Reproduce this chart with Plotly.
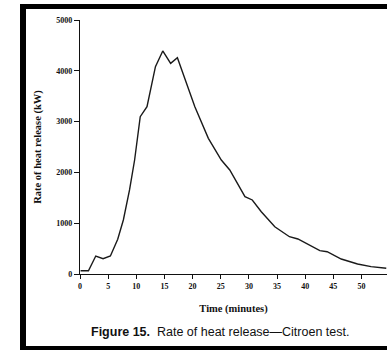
import plotly.graph_objects as go

time_min = [0.1, 1.5, 2.8, 4.1, 5.4, 6.7, 7.7, 8.8, 9.7, 10.7, 11.9, 13.4, 14.7, 16.1, 17.3,
            18.6, 20.4, 22.8, 25.1, 26.6, 29.3, 30.6, 32.2, 34.6, 37.2, 38.7, 40.5, 42.6,
            43.9, 46.4, 49.3, 51.7, 54.4]
heat_kw = [65, 65, 354, 302, 354, 683, 1063, 1654, 2244, 3097, 3294, 4081, 4390, 4147, 4258,
           3852, 3294, 2671, 2244, 2047, 1522, 1457, 1226, 931, 734, 689, 585, 459,
           439, 295, 197, 144, 112]
x_ticks = [0, 5, 10, 15, 20, 25, 30, 35, 40, 45, 50, 55]
y_ticks = [0, 1000, 2000, 3000, 4000, 5000]

W, H = 387, 350
ML, MR, MT, MB = 80, 0, 20, 76
PW, PH = W - ML - MR, H - MT - MB

def px_x(p):
    return (p - ML) / PW

def px_y(p):
    return (H - MB - p) / PH

fig = go.Figure()
fig.add_trace(go.Scatter(x=time_min, y=heat_kw, mode="lines",
                         line=dict(color="#1a1a1a", width=1.4), showlegend=False))

tick_font = dict(family="Liberation Serif", size=8, color="#111", weight="bold")
title_font = dict(family="Liberation Serif", size=10.5, color="#111", weight="bold")

fig.update_xaxes(range=[0, PW / 5.63], tickvals=x_ticks, showgrid=False, zeroline=False,
                 showline=True, linecolor="#111", linewidth=1.2, ticks="outside",
                 ticklen=4, tickwidth=1, tickcolor="#111", tickfont=tick_font,
                 title=dict(text="Time (minutes)", font=title_font, standoff=14))
fig.update_yaxes(range=[0, 5000], tickvals=y_ticks, showgrid=False, zeroline=False,
                 showline=True, linecolor="#111", linewidth=1.2, ticks="outside",
                 ticklen=5, tickwidth=1, tickcolor="#111", tickfont=tick_font,
                 title=dict(text="Rate of heat release (kW)", font=title_font, standoff=12))

# black frame (left, top, bottom edges; right edge is cropped in the reference)
frame = [(20, 4, 26, 350), (20, 4, W + 5, 9), (20, 346, W + 5, 352)]
for x0, y0, x1, y1 in frame:
    fig.add_shape(type="rect", xref="paper", yref="paper",
                  x0=px_x(x0), x1=px_x(x1), y0=px_y(y0), y1=px_y(y1),
                  fillcolor="black", line=dict(width=0), layer="above")

fig.add_annotation(xref="paper", yref="paper", x=px_x(220), y=px_y(332),
                   xanchor="center", yanchor="middle", showarrow=False,
                   text="<b>Figure 15.</b>  Rate of heat release\u2014Citroen test.",
                   font=dict(family="Liberation Sans", size=12.5, color="#111"))

fig.update_layout(width=W, height=H, margin=dict(l=ML, r=MR, t=MT, b=MB),
                  paper_bgcolor="white", plot_bgcolor="white")
fig.write_html("out.html")
